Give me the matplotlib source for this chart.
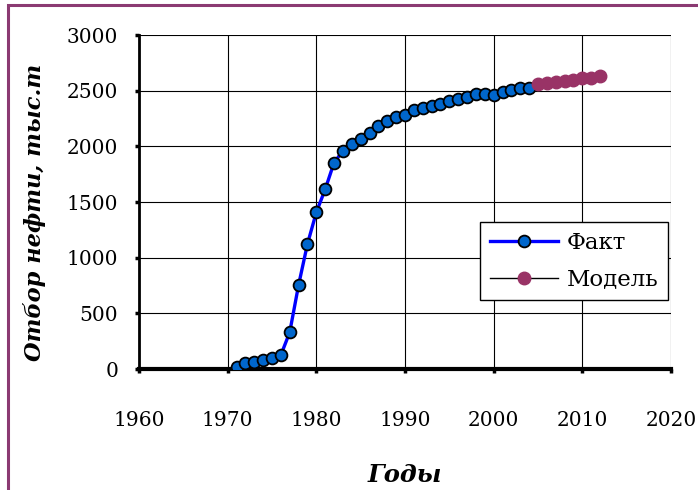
import matplotlib.pyplot as plt
from matplotlib.patches import Rectangle

# --- данные ---
fact_years = list(range(1971, 2005))
fact_values = [20, 50, 65, 80, 100, 125, 330, 755, 1123, 1408,
               1614, 1854, 1959, 2019, 2067, 2124, 2183, 2231, 2261, 2282,
               2327, 2348, 2363, 2381, 2408, 2426, 2447, 2468, 2468, 2462,
               2492, 2507, 2527, 2527]

model_years = list(range(2005, 2013))
model_values = [2558, 2573, 2582, 2588, 2597, 2612, 2612, 2632]

x_ticks = [1960, 1970, 1980, 1990, 2000, 2010, 2020]
y_ticks = [0, 500, 1000, 1500, 2000, 2500, 3000]

plt.rcParams['font.family'] = ['DejaVu Serif']

fig = plt.figure(figsize=(6.98, 4.9), dpi=100)
ax = fig.add_axes([139 / 698, 1 - 369 / 490, (671 - 139) / 698, (369 - 35) / 490])

# рамка вокруг рисунка
fig.patches.append(Rectangle((8 / 698, -0.05), 1.1, 1 - 5 / 490 + 0.05,
                             transform=fig.transFigure, fill=False,
                             edgecolor='#8B3A72', linewidth=2.2, zorder=0))

ax.plot(fact_years, fact_values, color='#0000FF', linewidth=2.4,
        marker='o', markersize=8.5, markerfacecolor='#0066CC',
        markeredgecolor='black', markeredgewidth=1.3, label='Факт', zorder=3)
ax.plot(model_years, model_values, color='black', linewidth=1.0,
        marker='o', markersize=9, markerfacecolor='#993366',
        markeredgecolor='#993366', label='Модель', zorder=3)

ax.set_xlim(1960, 2020)
ax.set_ylim(0, 3000)
ax.set_xticks(x_ticks)
ax.set_yticks(y_ticks)
ax.grid(True, color='black', linewidth=0.8)
ax.set_axisbelow(True)

for side in ['top', 'right']:
    ax.spines[side].set_visible(False)
ax.spines['left'].set_linewidth(2)
ax.spines['bottom'].set_linewidth(3)
ax.tick_params(axis='both', direction='out', length=3, width=2.5,
               labelsize=14.5)
ax.tick_params(axis='y', pad=12)
ax.tick_params(axis='x', pad=27)

ax.set_ylabel('Отбор нефти, тыс.т', fontsize=16.2, fontweight='bold',
              fontstyle='italic')
ax.yaxis.set_label_coords(-93 / 532, 0.47)
fig.text(405 / 698, 1 - 475 / 490, 'Годы', fontsize=17.5, fontweight='bold',
         fontstyle='italic', ha='center', va='center')

leg = ax.legend(loc='upper left', bbox_to_anchor=((480 - 139) / 532, (369 - 222) / 334),
                fontsize=16.5, frameon=True, fancybox=False, edgecolor='black',
                framealpha=1, handlelength=3.0, borderaxespad=0, borderpad=0.42,
                labelspacing=0.65, handletextpad=0.35)
leg.get_frame().set_linewidth(1.0)

fig.savefig('out.png', dpi=100)
